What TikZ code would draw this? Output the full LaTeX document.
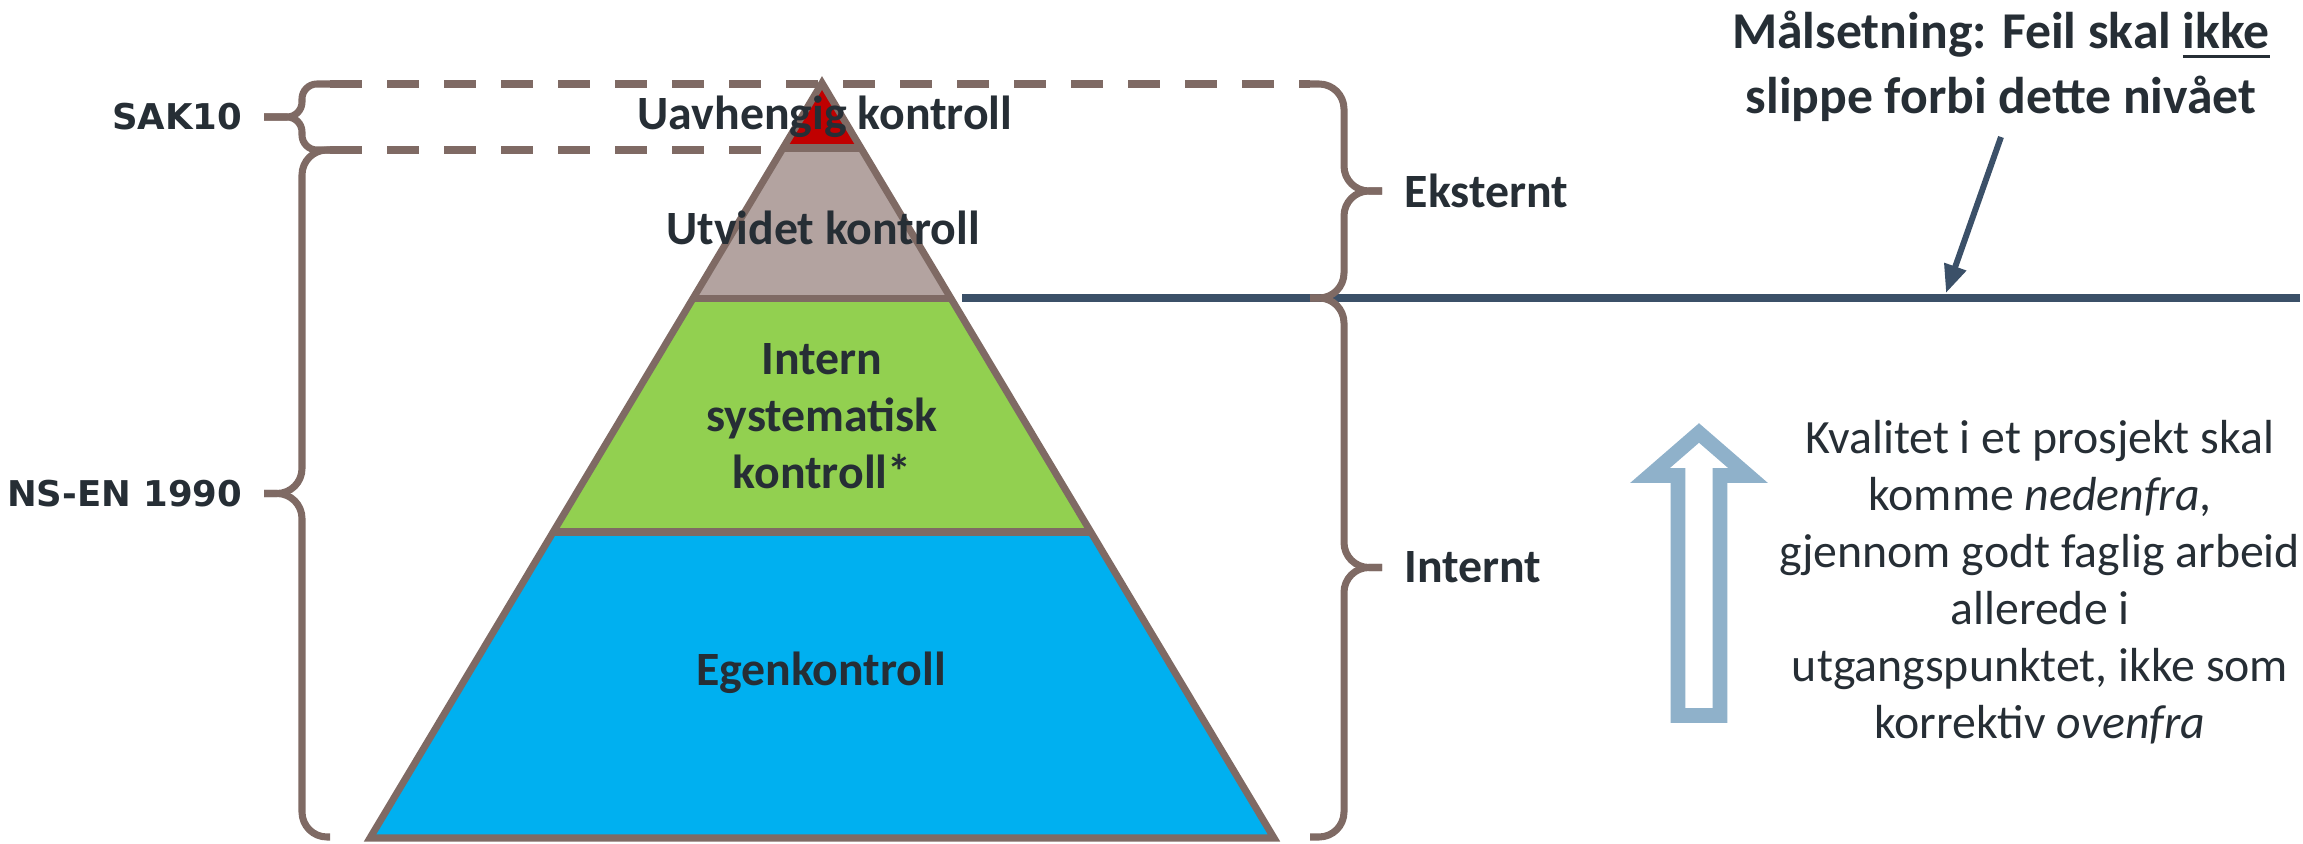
\documentclass[tikz,border=0pt]{standalone}
\usepackage{fontspec}
\setmainfont{Carlito}
\newfontfamily\stdfont{DejaVu Sans}
\newcommand\tykkstrek[1]{\setbox0\hbox{#1}\rlap{\rule[-0.2em]{\wd0}{1.1pt}}#1}
\usetikzlibrary{calc}
\usetikzlibrary{positioning,arrows.meta}

\definecolor{brun}{HTML}{7F6A64}
\definecolor{graa}{HTML}{B3A3A0}
\definecolor{rod}{HTML}{C00000}
\definecolor{gronn}{HTML}{92D050}
\definecolor{blaa}{HTML}{00B0F0}
\definecolor{linje}{HTML}{3B5068}
\definecolor{lysblaa}{HTML}{8FB1CA}
\definecolor{tekst}{HTML}{262E35}

\tikzset{
    kant/.style={draw=brun, line width=2pt},
    klamme/.style={draw=brun, line width=2pt, rounded corners=0.25cm},
    niva/.style={font=\fontsize{13.6}{16.2}\selectfont\bfseries, text=tekst, align=center, inner sep=0pt},
    standard/.style={font=\stdfont\fontsize{10.1}{12}\selectfont\bfseries, text=tekst, inner sep=0pt},
    merknad/.style={font=\fontsize{13.6}{16.2}\selectfont, text=tekst, align=center, inner sep=0pt},
}

\begin{document}
\begin{tikzpicture}[]
        \useasboundingbox (0,0) rectangle (23.03,-8.44);
        % hjørnene i pyramiden
        \coordinate (T) at (8.22,-0.83);
        \coordinate (BL) at (3.70,-8.38);
        \coordinate (BR) at (12.74,-8.38);
        \coordinate (L1) at ($(T)!0.0861!(BL)$);
        \coordinate (R1) at ($(T)!0.0861!(BR)$);
        \coordinate (L2) at ($(T)!0.2848!(BL)$);
        \coordinate (R2) at ($(T)!0.2848!(BR)$);
        \coordinate (L3) at ($(T)!0.5947!(BL)$);
        \coordinate (R3) at ($(T)!0.5947!(BR)$);
        % stiplet ramme rundt SAK10
        \draw [kant, dash pattern=on 0.32cm off 0.25cm] (3.30,-0.84) -- (13.10,-0.84);
        \draw [kant, dash pattern=on 0.32cm off 0.25cm] (3.30,-1.50) -- (7.62,-1.50);
        % lagene i pyramiden
        \fill [blaa] (L3) -- (R3) -- (BR) -- (BL) -- cycle;
        \fill [gronn] (L2) -- (R2) -- (R3) -- (L3) -- cycle;
        \fill [graa] (L1) -- (R1) -- (R2) -- (L2) -- cycle;
        \fill [rod] (T) -- (R1) -- (L1) -- cycle;
        \draw [kant] (L1) -- (R1) (L2) -- (R2) (L3) -- (R3);
        \draw [kant, line join=miter] (T) -- (BR) -- (BL) -- cycle;
        % nivået som feil ikke skal slippe forbi
        \coordinate (linjestart) at (9.62,-2.98);
        \coordinate (linjeslutt) at (23.00,-2.98);
        \draw [linje, line width=2pt] (linjestart) -- (linjeslutt);
        % klammer til venstre
        \coordinate (sakspiss) at (2.64,-1.17);
        \coordinate (nsspiss) at (2.64,-4.935);
        \draw [klamme, rounded corners=0.15cm] (3.30,-0.84) -| (3.02,-1.17) -- (sakspiss);
        \draw [klamme, rounded corners=0.15cm] (3.30,-1.50) -| (3.02,-1.17) -- (sakspiss);
        \draw [klamme] (3.30,-1.50) -| (3.02,-4.935) -- (nsspiss);
        \draw [klamme] (3.30,-8.37) -| (3.02,-4.935) -- (nsspiss);
        % klammer til høyre
        \coordinate (ekstspiss) at (13.82,-1.91);
        \coordinate (intspiss) at (13.82,-5.675);
        \draw [klamme] (13.10,-0.84) -| (13.44,-1.91) -- (ekstspiss);
        \draw [klamme] (13.10,-2.98) -| (13.44,-1.91) -- (ekstspiss);
        \draw [klamme] (13.10,-2.98) -| (13.44,-5.675) -- (intspiss);
        \draw [klamme] (13.10,-8.37) -| (13.44,-5.675) -- (intspiss);
        % tekst
        \node [standard, left=0.21cm of sakspiss] (sak) {SAK10};
        \node [standard, left=0.21cm of nsspiss] (ns) {NS-EN 1990};
        \node [niva, right=0.22cm of ekstspiss] (ekst) {Eksternt};
        \node [niva, right=0.22cm of intspiss] (int) {Internt};
        \node [niva] (uavh) at (8.25,-1.17) {Uavhengig kontroll};
        \node [niva] (utv) at (8.23,-2.28) {Utvidet kontroll};
        \node [niva] (isk) at (8.22,-4.16) {Intern\\systematisk\\kontroll*};
        \node [niva] (egen) at (8.21,-6.73) {Egenkontroll};
        \node [niva, font=\fontsize{14.7}{18.5}\selectfont\bfseries] (maal) at (20.01,-0.66)
            {Målsetning: Feil skal \tykkstrek{ikke}\\slippe forbi dette nivået};
        \node [merknad] (kval) at (20.40,-5.82)
            {Kvalitet i et prosjekt skal\\komme \textit{nedenfra},\\gjennom godt faglig arbeid\\allerede i\\utgangspunktet, ikke som\\korrektiv \textit{ovenfra}};
        % pil ned mot nivået
        \coordinate (pilstart) at (20.01,-1.37);
        \coordinate (pilmaal) at (19.46,-2.93);
        \draw [linje, line width=1.7pt, -{Triangle[length=0.28cm, width=0.22cm]}] (pilstart) -- (pilmaal);
        % hul pil oppover
        \draw [lysblaa, line width=4.2pt, line join=miter] (16.78,-7.155) -- (16.78,-4.755) -- (16.50,-4.755)
            -- (16.99,-4.33) -- (17.48,-4.755) -- (17.20,-4.755) -- (17.20,-7.155) -- cycle;
\end{tikzpicture}
\end{document}
